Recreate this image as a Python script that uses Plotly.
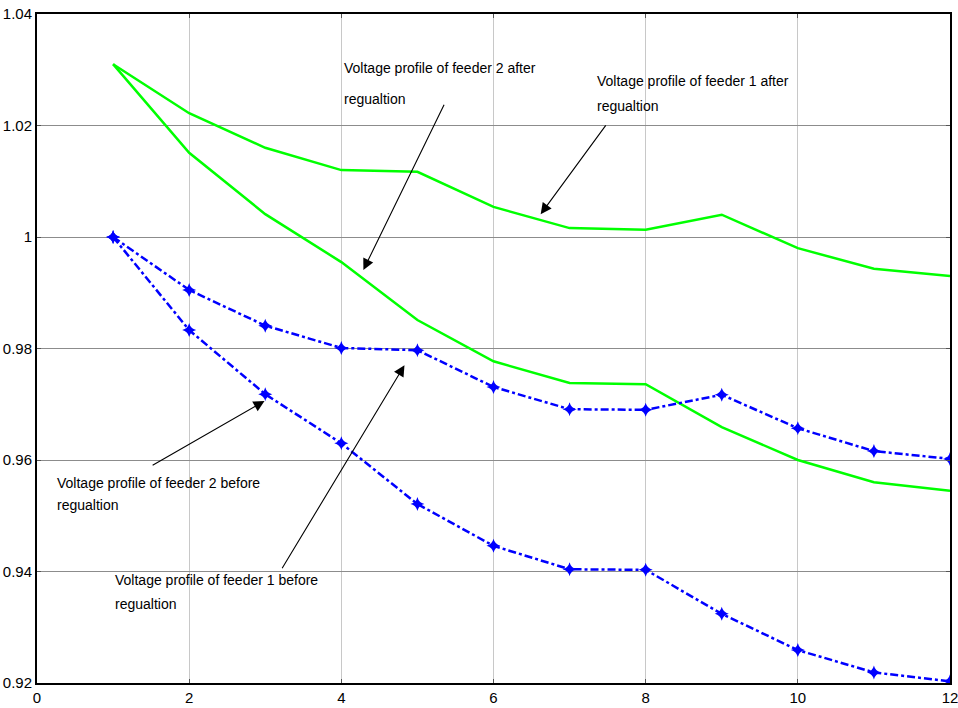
import plotly.graph_objects as go

bus = [1, 2, 3, 4, 5, 6, 7, 8, 9, 10, 11, 12]

feeder1_after = [1.031, 1.0222, 1.016, 1.012, 1.0117, 1.0054, 1.0016, 1.0013, 1.0040, 0.998, 0.9943, 0.993]
feeder2_after = [1.031, 1.0151, 1.0041, 0.9955, 0.9851, 0.9777, 0.9738, 0.9736, 0.9659, 0.960, 0.956, 0.9545]
feeder1_before = [1.000, 0.9905, 0.9841, 0.9801, 0.9797, 0.9731, 0.9691, 0.9690, 0.9717, 0.9657, 0.9616, 0.9602]
feeder2_before = [1.000, 0.9833, 0.9718, 0.9630, 0.9521, 0.9446, 0.9404, 0.9403, 0.9324, 0.9259, 0.9219, 0.9203]

x_ticks = [0, 2, 4, 6, 8, 10, 12]
y_ticks = [0.92, 0.94, 0.96, 0.98, 1.00, 1.02, 1.04]
y_tick_text = ["0.92", "0.94", "0.96", "0.98", "1", "1.02", "1.04"]

FONT = "Liberation Sans Narrow, Arial Narrow, Liberation Sans, Arial, sans-serif"

fig = go.Figure()

for ys in (feeder1_after, feeder2_after):
    fig.add_trace(go.Scatter(x=bus, y=ys, mode="lines",
                             line=dict(color="#00ff00", width=2.5),
                             showlegend=False))
for ys in (feeder1_before, feeder2_before):
    fig.add_trace(go.Scatter(x=bus, y=ys, mode="lines+markers",
                             line=dict(color="#0000ff", width=2.5, dash="8px,3px,3px,3px"),
                             marker=dict(symbol="star-diamond", size=10, color="#0000ff"),
                             showlegend=False))

# arrows (tail -> head) in data coordinates
arrows = [
    ((5.36, 1.0240), (4.29, 0.9941)),
    ((7.49, 1.0203), (6.62, 1.0041)),
    ((1.50, 0.9589), (2.99, 0.9706)),
    ((3.21, 0.9403), (4.83, 0.9770)),
]
for (tx, ty), (hx, hy) in arrows:
    fig.add_annotation(x=hx, y=hy, ax=tx, ay=ty, xref="x", yref="y",
                       axref="x", ayref="y", text="", showarrow=True,
                       arrowhead=2, arrowsize=2.0, arrowwidth=1.1,
                       arrowcolor="black", standoff=0, startstandoff=0)

# labels: (text, x, y)
labels = [
    ("Voltage profile of feeder 2 after", 4.01, 1.0303),
    ("regualtion", 4.01, 1.0247),
    ("Voltage profile of feeder 1 after", 7.33, 1.0280),
    ("regualtion", 7.33, 1.0235),
    ("Voltage profile of feeder 2 before", 0.237, 0.9558),
    ("regualtion", 0.237, 0.9519),
    ("Voltage profile of feeder 1 before", 0.996, 0.9384),
    ("regualtion", 0.996, 0.9341),
]
for txt, lx, ly in labels:
    fig.add_annotation(x=lx, y=ly, xref="x", yref="y", text=txt,
                       showarrow=False, xanchor="left", yanchor="middle",
                       font=dict(family=FONT, size=14, color="black"))

axis_common = dict(showline=True, linecolor="black", linewidth=2, mirror="ticks",
                   ticks="inside", ticklen=4, tickcolor="#555555", automargin=False,
                   ticklabeloverflow="allow",
                   zeroline=False, tickfont=dict(family=FONT, size=15, color="black"))

fig.update_xaxes(range=[0, 12], tickvals=x_ticks, showgrid=True,
                 gridcolor="#c8c8c8", gridwidth=1, **axis_common)
fig.update_yaxes(range=[0.92, 1.04], tickvals=y_ticks, ticktext=y_tick_text,
                 showgrid=True, gridcolor="#8c8c8c", gridwidth=1, **axis_common)

fig.update_layout(width=958, height=708, plot_bgcolor="white", paper_bgcolor="white",
                  margin=dict(l=37, r=8, t=14, b=25), showlegend=False)

fig.write_html("out.html", config={"displayModeBar": False},
               post_script="document.body.style.margin='0';document.body.style.overflow='hidden';")
